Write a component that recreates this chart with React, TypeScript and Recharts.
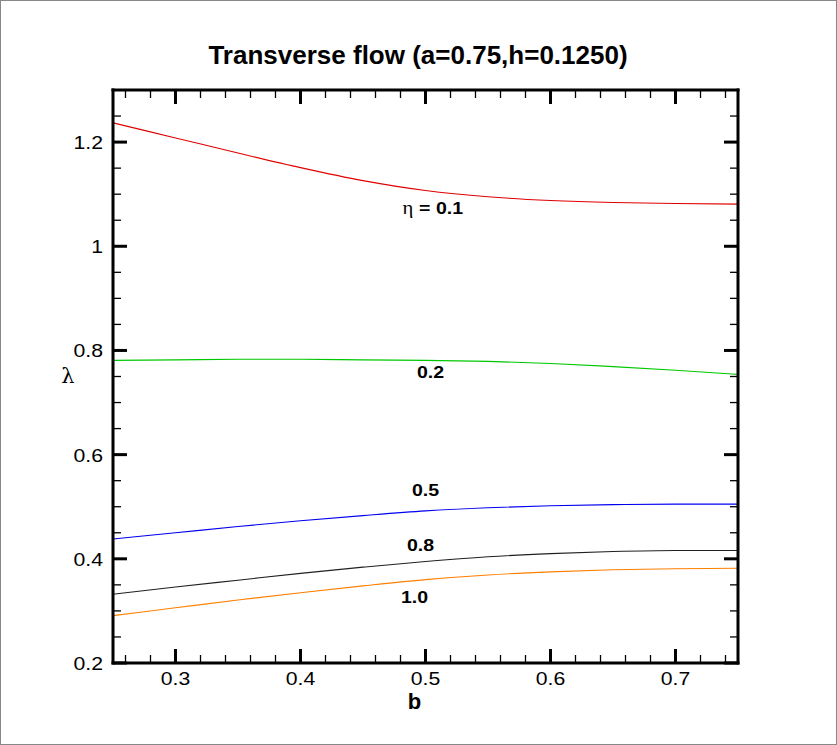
import React from "react";
import { LineChart, Line, XAxis, YAxis, LabelList } from "recharts";

// b values shared by every curve
const B = [0.25, 0.3, 0.35, 0.4, 0.45, 0.5, 0.55, 0.6, 0.65, 0.7, 0.75];

// lambda for each eta
const ETA_01 = [1.237, 1.208, 1.179, 1.151, 1.126, 1.107, 1.095, 1.088, 1.084, 1.082, 1.081];
const ETA_02 = [0.781, 0.782, 0.783, 0.783, 0.782, 0.781, 0.779, 0.775, 0.769, 0.762, 0.754];
const ETA_05 = [0.438, 0.45, 0.462, 0.473, 0.483, 0.492, 0.498, 0.502, 0.504, 0.505, 0.505];
const ETA_08 = [0.332, 0.346, 0.359, 0.372, 0.384, 0.395, 0.404, 0.41, 0.414, 0.416, 0.416];
const ETA_10 = [0.291, 0.306, 0.321, 0.335, 0.348, 0.36, 0.369, 0.375, 0.379, 0.381, 0.382];

const X_MAJOR = [0.3, 0.4, 0.5, 0.6, 0.7];
const X_MINOR = [
  0.26, 0.28, 0.32, 0.34, 0.36, 0.38, 0.42, 0.44, 0.46, 0.48, 0.52, 0.54, 0.56, 0.58, 0.62,
  0.64, 0.66, 0.68, 0.72, 0.74,
];
const Y_MAJOR = [0.2, 0.4, 0.6, 0.8, 1, 1.2];
const Y_MINOR = [0.25, 0.3, 0.35, 0.45, 0.5, 0.55, 0.65, 0.7, 0.75, 0.85, 0.9, 0.95, 1.05, 1.1, 1.15, 1.25];

const data = B.map((b, i) => ({
  b,
  e01: ETA_01[i],
  e02: ETA_02[i],
  e05: ETA_05[i],
  e08: ETA_08[i],
  e10: ETA_10[i],
}));

const X_TICKS = [...X_MAJOR, ...X_MINOR].sort((a, b) => a - b);
const Y_TICKS = [...Y_MAJOR, ...Y_MINOR].sort((a, b) => a - b);
const isMajor = (list: number[], v: number) => list.some((m) => Math.abs(m - v) < 1e-6);

const FONT = "'Liberation Sans', Arial, Helvetica, sans-serif";
const STRETCH = 1.18;

// text drawn slightly wider than the font, like the original export
const Wide = ({ x, y, anchor, size, bold, children }: any) => (
  <text
    transform={`translate(${x},${y}) scale(${STRETCH},1)`}
    textAnchor={anchor}
    fontFamily={FONT}
    fontSize={size}
    fontWeight={bold ? "bold" : "normal"}
    fill="#000"
  >
    {children}
  </text>
);

const BottomTick = ({ x, y, payload }: any) => {
  const major = isMajor(X_MAJOR, payload.value);
  return (
    <g>
      <line x1={x} y1={y} x2={x} y2={y - (major ? 14 : 8)} stroke="#000" strokeWidth={major ? 3 : 1.3} />
      {major && (
        <Wide x={x} y={y + 22} anchor="middle" size={18}>
          {String(payload.value)}
        </Wide>
      )}
    </g>
  );
};

const TopTick = ({ x, y, payload }: any) => {
  const major = isMajor(X_MAJOR, payload.value);
  return <line x1={x} y1={y} x2={x} y2={y + (major ? 14 : 8)} stroke="#000" strokeWidth={major ? 3 : 1.3} />;
};

const LeftTick = ({ x, y, payload }: any) => {
  const major = isMajor(Y_MAJOR, payload.value);
  return (
    <g>
      <line x1={x} y1={y} x2={x + (major ? 14 : 8)} y2={y} stroke="#000" strokeWidth={major ? 3 : 1.3} />
      {major && (
        <Wide x={x - 10} y={y + 7} anchor="end" size={18}>
          {String(payload.value)}
        </Wide>
      )}
    </g>
  );
};

const RightTick = ({ x, y, payload }: any) => {
  const major = isMajor(Y_MAJOR, payload.value);
  return <line x1={x} y1={y} x2={x - (major ? 14 : 8)} y2={y} stroke="#000" strokeWidth={major ? 3 : 1.3} />;
};

const LABEL_AT = 5; // label each curve near b = 0.5

const curveLabel = (text: string, dx: number, dy: number, eta?: boolean) => (props: any) => {
  if (props.index !== LABEL_AT) return null;
  const px = props.viewBox?.x ?? props.x;
  const py = props.viewBox?.y ?? props.y;
  return (
    <text
      transform={`translate(${px + dx},${py + dy}) scale(1.15,1)`}
      textAnchor={eta ? "start" : "middle"}
      fontFamily={FONT}
      fontSize={17}
      fontWeight="bold"
      fill="#000"
    >
      {eta && (
        <tspan fontFamily="'Liberation Serif', serif" fontWeight="normal" fontSize={18}>
          η
        </tspan>
      )}
      <tspan dx={eta ? 5 : 0}>{text}</tspan>
    </text>
  );
};

const axisLine = { stroke: "#000", strokeWidth: 3, strokeLinecap: "square" as const };

export default function App() {
  return (
    <div style={{ position: "absolute", left: 0, top: 0, width: 837, height: 745, background: "#fff" }}>
      <div
        style={{
          position: "absolute",
          left: 0,
          top: 0,
          width: 835,
          height: 743,
          border: "1px solid #888",
          pointerEvents: "none",
        }}
      />
      <div
        style={{
          position: "absolute",
          left: 0,
          top: 40,
          width: 836,
          textAlign: "center",
          fontFamily: FONT,
          fontWeight: "bold",
          fontSize: 26,
          lineHeight: "normal",
          color: "#000",
        }}
      >
        Transverse flow (a=0.75,h=0.1250)
      </div>
      <LineChart width={837} height={745} data={data} margin={{ top: 89, right: 98, bottom: 32, left: 53 }}>
        <XAxis
          dataKey="b"
          type="number"
          domain={[0.25, 0.75]}
          allowDataOverflow
          ticks={X_TICKS}
          interval={0}
          tickSize={0}
          tickMargin={0}
          tickLine={false}
          axisLine={axisLine}
          tick={<BottomTick />}
          height={50}
          label={{
            content: ({ viewBox }: any) => (
              <text
                x={viewBox.x + viewBox.width / 2 - 11}
                y={viewBox.y + 46}
                textAnchor="middle"
                fontFamily={FONT}
                fontWeight="bold"
                fontSize={22}
                fill="#000"
              >
                b
              </text>
            ),
          }}
        />
        <XAxis
          xAxisId="top"
          orientation="top"
          dataKey="b"
          type="number"
          domain={[0.25, 0.75]}
          allowDataOverflow
          ticks={X_TICKS}
          interval={0}
          tickSize={0}
          tickMargin={0}
          tickLine={false}
          axisLine={axisLine}
          tick={<TopTick />}
          height={1}
        />
        <YAxis
          type="number"
          domain={[0.2, 1.3]}
          allowDataOverflow
          ticks={Y_TICKS}
          interval={0}
          tickSize={0}
          tickMargin={0}
          tickLine={false}
          axisLine={axisLine}
          tick={<LeftTick />}
          width={60}
          label={{
            content: ({ viewBox }: any) => (
              <text
                x={viewBox.x + 15}
                y={viewBox.y + viewBox.height / 2 + 6}
                textAnchor="middle"
                fontFamily="'DejaVu Serif', serif"
                fontSize={21}
                fill="#000"
              >
                λ
              </text>
            ),
          }}
        />
        <YAxis
          yAxisId="right"
          orientation="right"
          type="number"
          domain={[0.2, 1.3]}
          allowDataOverflow
          ticks={Y_TICKS}
          interval={0}
          tickSize={0}
          tickMargin={0}
          tickLine={false}
          axisLine={axisLine}
          tick={<RightTick />}
          width={1}
        />
        <Line dataKey="e01" type="monotone" stroke="#e00000" strokeWidth={1.1} dot={false} isAnimationActive={false}>
          <LabelList dataKey="e01" content={curveLabel("= 0.1", -23, 23, true)} />
        </Line>
        <Line dataKey="e02" type="monotone" stroke="#00c800" strokeWidth={1.1} dot={false} isAnimationActive={false}>
          <LabelList dataKey="e02" content={curveLabel("0.2", 5, 18)} />
        </Line>
        <Line dataKey="e05" type="monotone" stroke="#0000f0" strokeWidth={1.1} dot={false} isAnimationActive={false}>
          <LabelList dataKey="e05" content={curveLabel("0.5", 0, -15)} />
        </Line>
        <Line dataKey="e08" type="monotone" stroke="#202020" strokeWidth={1.1} dot={false} isAnimationActive={false}>
          <LabelList dataKey="e08" content={curveLabel("0.8", -5, -10)} />
        </Line>
        <Line dataKey="e10" type="monotone" stroke="#ff7f00" strokeWidth={1.1} dot={false} isAnimationActive={false}>
          <LabelList dataKey="e10" content={curveLabel("1.0", -11, 23)} />
        </Line>
      </LineChart>
    </div>
  );
}
